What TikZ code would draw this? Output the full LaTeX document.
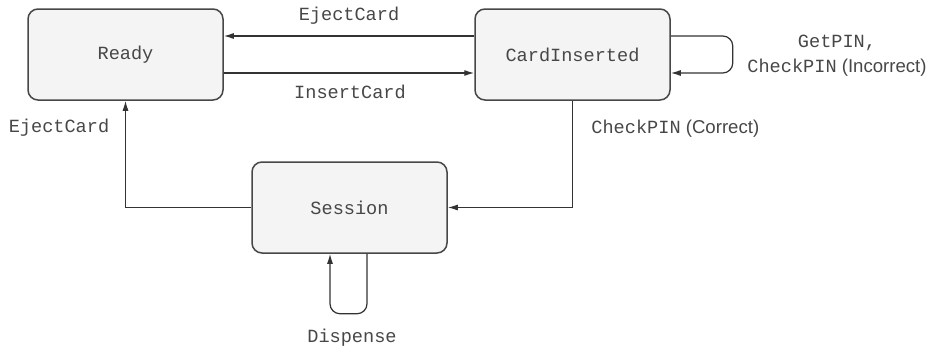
\documentclass[tikz,border=0pt]{standalone}
\usepackage{fontspec}
\setmonofont{Liberation Mono}
\setsansfont{Liberation Sans}
\usepackage{tikz}
\usetikzlibrary{
    positioning,
    arrows.meta
    }

\definecolor{boxfill}{HTML}{F3F4F3}
\definecolor{ink}{HTML}{333333}

\begin{document}
\begin{tikzpicture}[x=0.5pt, y=-0.5pt]
\tikzset{atmstate/.style =
        {
            rectangle,
            rounded corners=5pt,
            line width=0.75pt,
            draw=ink!90,
            fill=boxfill,
            minimum width=97.5pt,
            minimum height=45.5pt,
            inner sep=0pt,
            text=ink!90,
            font=\fontsize{9.3}{12.5}\selectfont\ttfamily
        }
}

\tikzset{flow/.style =
        {
            line width=0.6pt,
            draw=ink,
            -{Latex[length=5pt, width=3pt]}
        }
}

\tikzset{event/.style =
        {
            inner sep=0pt,
            text=ink!90,
            align=center,
            font=\fontsize{9.3}{12.5}\selectfont\ttfamily
        }
}

\useasboundingbox (0,0) rectangle (931,348);

		\node[atmstate] (ready) at (125.5,54.5) {Ready};
		\node[atmstate] (cardins) at (572.5,54.5) {CardInserted};
		\node[atmstate] (session) at (349.5,207.5) {Session};

		\node[event] (ev-eject1) at (349,16) {EjectCard};
		\node[event] (ev-insert) at (350,92) {InsertCard};
		\node[event] (ev-getpin) at (837,56) {GetPIN,\\CheckPIN{\sffamily\ (Incorrect)}};
		\node[event, anchor=west] (ev-correct) at (591,129) {CheckPIN{\sffamily\ (Correct)}};
		\node[event] (ev-eject2) at (59,128) {EjectCard};
		\node[event] (ev-dispense) at (352,338) {Dispense};

		\draw [flow] ([yshift=9.25pt]cardins.west) -- ([yshift=9.25pt]ready.east);
		\draw [flow] ([yshift=-9.25pt]ready.east) -- ([yshift=-9.25pt]cardins.west);
		\draw [flow, rounded corners=5pt] ([yshift=9.25pt]cardins.east) -- ++(31pt,0pt)
			-- ++(0pt,-18.5pt) -- ([yshift=-9.25pt]cardins.east);
		\draw [flow] (cardins.south) |- (session.east);
		\draw [flow] (session.west) -| (ready.south);
		\draw [flow, rounded corners=5pt] ([xshift=8.75pt]session.south) -- ++(0pt,-30pt)
			-| ([xshift=-9.75pt]session.south);

	\end{tikzpicture}
\end{document}
